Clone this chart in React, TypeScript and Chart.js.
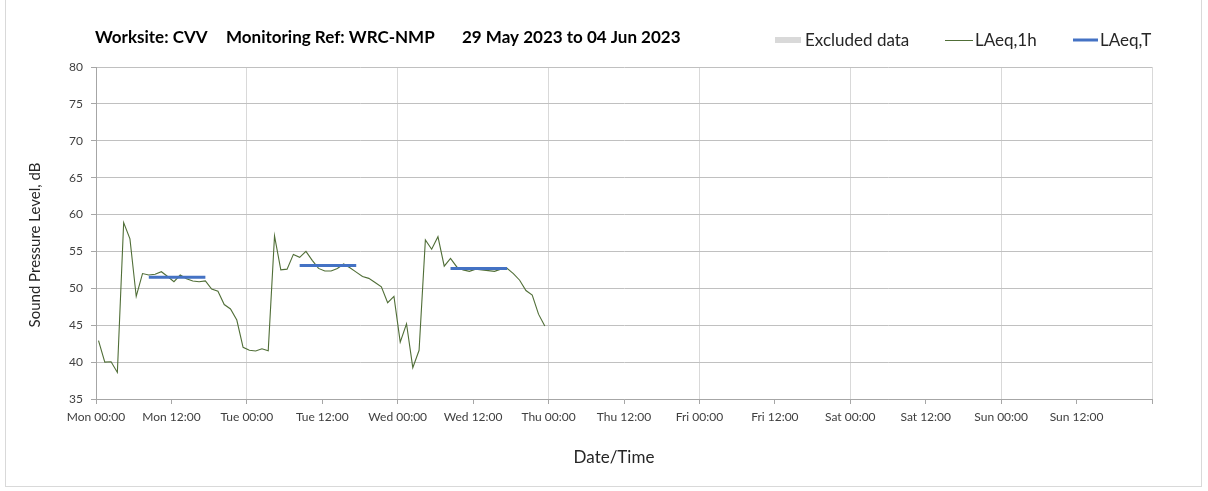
import React, { useEffect, useRef } from "react";
import { Chart, registerables } from "chart.js";

Chart.register(...registerables);

const FONT = "Lato, 'Open Sans', sans-serif";

const titleParts = ["Worksite: CVV", "Monitoring Ref: WRC-NMP", "29 May 2023 to 04 Jun 2023"];
const legendLabels = ["Excluded data", "LAeq,1h", "LAeq,T"];
const yAxisTitle = "Sound Pressure Level, dB";
const xAxisTitle = "Date/Time";

const dayNames = ["Mon", "Tue", "Wed", "Thu", "Fri", "Sat", "Sun"];
const tickLabels = dayNames.flatMap((d) => [`${d} 00:00`, `${d} 12:00`]);
const tickHours = [0, 12, 24, 36, 48, 60, 72, 84, 96, 108, 120, 132, 144, 156, 168];

const yMin = 35;
const yMax = 80;
const yStep = 5;

// hourly readings (hours since Mon 00:00)
const firstReadingHour = 0.4;
const laeq1h = [
  42.9, 40.0, 40.05, 38.6, 58.9, 56.7, 48.9, 52.0, 51.8, 51.9, 52.25, 51.6,
  50.9, 51.8, 51.3, 51.0, 50.9, 51.0, 49.9, 49.6, 47.8, 47.2, 45.7, 42.0,
  41.6, 41.5, 41.8, 41.55, 57.1, 52.5, 52.6, 54.6, 54.2, 55.0, 53.8, 52.7,
  52.35, 52.35, 52.7, 53.3, 52.8, 52.2, 51.6, 51.35, 50.8, 50.2, 48.05, 48.9,
  42.7, 45.2, 39.25, 41.6, 56.55, 55.3, 57.0, 53.0, 54.05, 52.9, 52.5, 52.3,
  52.6, 52.5, 52.4, 52.3, 52.6, 52.7, 52.0, 51.1, 49.7, 49.1, 46.5, 44.9,
];

// period averages
const laeqT = [51.5, 53.1, 52.7];
const laeqTFirstHour = [8, 32, 56];
const laeqTLastHour = [17, 41, 65];

const headerPlugin = {
  id: "header",
  afterDraw(chart: any) {
    const ctx = chart.ctx as CanvasRenderingContext2D;
    ctx.save();
    // title
    ctx.fillStyle = "#000000";
    ctx.textBaseline = "middle";
    ctx.textAlign = "left";
    ctx.font = `bold 17px ${FONT}`;
    const titleX = [95, 226, 462];
    titleParts.forEach((t, i) => ctx.fillText(t, titleX[i], 38));

    // legend
    ctx.font = `17px ${FONT}`;
    ctx.fillStyle = "#D9D9D9";
    ctx.fillRect(775, 37, 26, 6);
    ctx.strokeStyle = "#506E37";
    ctx.lineWidth = 1;
    ctx.beginPath();
    ctx.moveTo(945, 40.5);
    ctx.lineTo(973, 40.5);
    ctx.stroke();
    ctx.strokeStyle = "#4472C4";
    ctx.lineWidth = 3;
    ctx.beginPath();
    ctx.moveTo(1073, 40);
    ctx.lineTo(1098, 40);
    ctx.stroke();
    ctx.fillStyle = "#262626";
    const legendX = [805, 975, 1100];
    legendLabels.forEach((t, i) => ctx.fillText(t, legendX[i], 41));

    // axis titles
    ctx.font = `17px ${FONT}`;
    ctx.fillStyle = "#262626";
    ctx.textAlign = "center";
    ctx.fillText(xAxisTitle, 614, 458);
    ctx.font = `15px ${FONT}`;
    ctx.translate(35, 245);
    ctx.rotate(-Math.PI / 2);
    ctx.fillText(yAxisTitle, 0, 0);
    ctx.restore();
  },
};

export default function App() {
  const canvasRef = useRef<HTMLCanvasElement | null>(null);

  useEffect(() => {
    const canvas = canvasRef.current;
    if (!canvas) return;

    const lineData = laeq1h.map((v, i) => ({ x: firstReadingHour + i, y: v }));
    const periodData: { x: number; y: number | null }[] = [];
    laeqT.forEach((v, i) => {
      periodData.push({ x: laeqTFirstHour[i] + firstReadingHour, y: v });
      periodData.push({ x: laeqTLastHour[i] + firstReadingHour, y: v });
      periodData.push({ x: laeqTLastHour[i] + firstReadingHour + 0.5, y: null });
    });

    const chart = new Chart(canvas, {
      type: "line",
      data: {
        datasets: [
          {
            label: legendLabels[2],
            data: periodData as any,
            borderColor: "#4472C4",
            borderWidth: 3,
            pointRadius: 0,
            spanGaps: false,
            borderCapStyle: "butt",
          },
          {
            label: legendLabels[1],
            data: lineData,
            borderColor: "#506E37",
            borderWidth: 1.1,
            pointRadius: 0,
          },
        ],
      },
      options: {
        responsive: false,
        animation: false,
        devicePixelRatio: 1,
        layout: { padding: { top: 67, right: 56, bottom: 0, left: 0 } },
        plugins: {
          legend: { display: false },
          title: { display: false },
          tooltip: { enabled: false },
        },
        scales: {
          x: {
            type: "linear",
            min: 0,
            max: 168,
            afterFit: (s: any) => {
              s.height = 92;
            },
            afterBuildTicks: (s: any) => {
              s.ticks = tickHours.map((v) => ({ value: v }));
            },
            ticks: {
              autoSkip: false,
              maxRotation: 0,
              minRotation: 0,
              padding: 6,
              color: "#404040",
              font: { family: FONT, size: 12 },
              callback: (v: any) => (v < 168 ? tickLabels[Math.round(v / 12)] : ""),
            },
            grid: {
              color: (c: any) =>
                c.tick && c.tick.value % 24 === 0 ? "#D9D9D9" : "rgba(0,0,0,0)",
              tickColor: "#A6A6A6",
              tickLength: 5,
              lineWidth: 1,
            },
            border: { color: "#A6A6A6", width: 1 },
          },
          y: {
            min: yMin,
            max: yMax,
            afterFit: (s: any) => {
              s.width = 96;
            },
            ticks: {
              stepSize: yStep,
              padding: 8,
              color: "#404040",
              font: { family: FONT, size: 12 },
            },
            grid: {
              color: "#C0C0C0",
              tickColor: "#A6A6A6",
              tickLength: 5,
              lineWidth: 1,
            },
            border: { color: "#A6A6A6", width: 1 },
          },
        },
      },
      plugins: [headerPlugin],
    });

    return () => chart.destroy();
  }, []);

  return (
    <div style={{ position: "fixed", left: 0, top: 0, width: 1208, height: 491, background: "#ffffff" }}>
      <div
        style={{
          position: "absolute",
          left: 5,
          top: -2,
          width: 1197,
          height: 489,
          borderLeft: "1px solid #D9D9D9",
          borderRight: "1px solid #D9D9D9",
          borderBottom: "1px solid #D9D9D9",
          boxSizing: "border-box",
        }}
      />
      <canvas ref={canvasRef} width={1208} height={491} style={{ position: "absolute", left: 0, top: 0 }} />
    </div>
  );
}
